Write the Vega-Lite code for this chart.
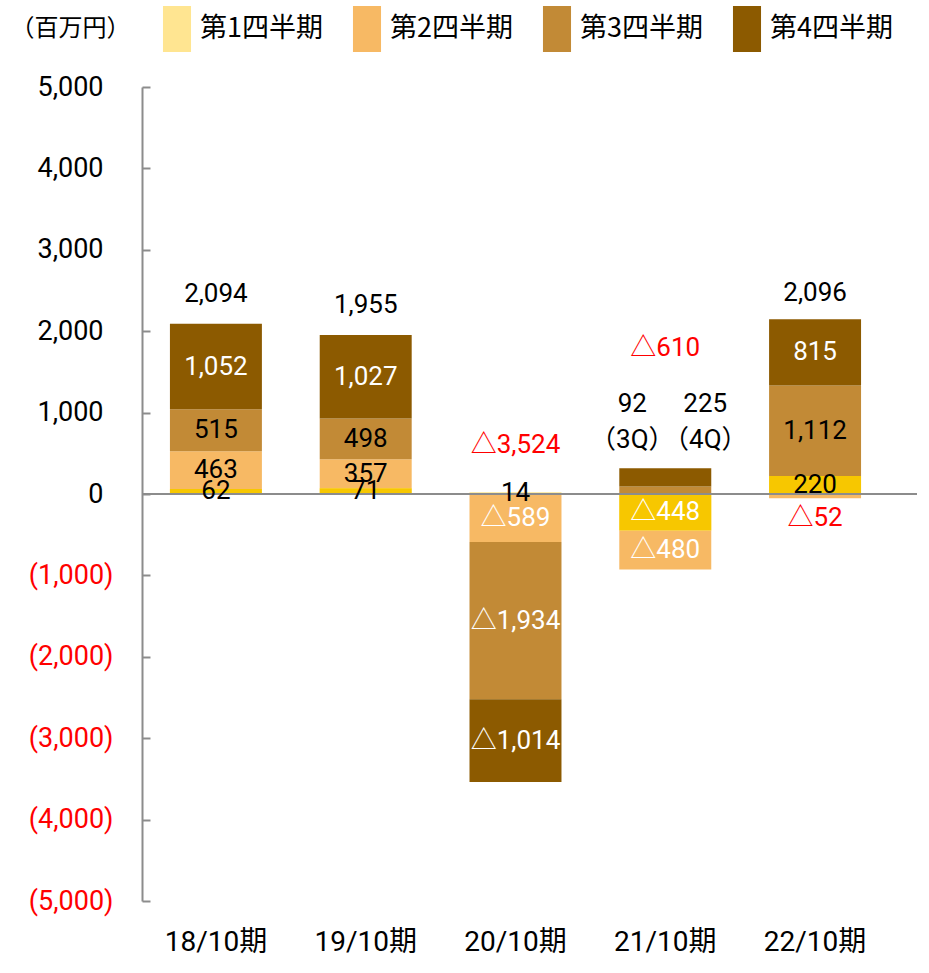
{
"$schema":"https://vega.github.io/schema/vega-lite/v6.json",
"width":775,"height":814,
"autosize":{"type":"none"},
"padding":{"left":142,"top":87,"right":12,"bottom":72},
"background":"white",
"config":{"view":{"stroke":null},"font":"Roboto, 'Noto Sans CJK JP', sans-serif","text":{"font":"Roboto, 'Noto Sans CJK JP', sans-serif"}},
"datasets":{
"quarters":[
{"period":"18/10期","quarter":"第1四半期","q":1,"value":62},
{"period":"18/10期","quarter":"第2四半期","q":2,"value":463},
{"period":"18/10期","quarter":"第3四半期","q":3,"value":515},
{"period":"18/10期","quarter":"第4四半期","q":4,"value":1052},
{"period":"19/10期","quarter":"第1四半期","q":1,"value":71},
{"period":"19/10期","quarter":"第2四半期","q":2,"value":357},
{"period":"19/10期","quarter":"第3四半期","q":3,"value":498},
{"period":"19/10期","quarter":"第4四半期","q":4,"value":1027},
{"period":"20/10期","quarter":"第1四半期","q":1,"value":14},
{"period":"20/10期","quarter":"第2四半期","q":2,"value":-589},
{"period":"20/10期","quarter":"第3四半期","q":3,"value":-1934},
{"period":"20/10期","quarter":"第4四半期","q":4,"value":-1014},
{"period":"21/10期","quarter":"第1四半期","q":1,"value":-448},
{"period":"21/10期","quarter":"第2四半期","q":2,"value":-480},
{"period":"21/10期","quarter":"第3四半期","q":3,"value":92},
{"period":"21/10期","quarter":"第4四半期","q":4,"value":225},
{"period":"22/10期","quarter":"第1四半期","q":1,"value":220},
{"period":"22/10期","quarter":"第2四半期","q":2,"value":-52},
{"period":"22/10期","quarter":"第3四半期","q":3,"value":1112},
{"period":"22/10期","quarter":"第4四半期","q":4,"value":815}
],
"totals":[
{"period":"18/10期","total":2094},
{"period":"19/10期","total":1955},
{"period":"20/10期","total":-3524},
{"period":"21/10期","total":-610},
{"period":"22/10期","total":2096}
]
},
"layer":[
{
"data":{"name":"quarters"},
"transform":[{"stack":"value","groupby":["period"],"sort":[{"field":"q","order":"ascending"}],"as":["v0","v1"],"offset":"zero"}],
"mark":{"type":"bar"},
"encoding":{
"x":{"field":"period","type":"nominal","title":null,
"scale":{"domain":["18/10期","19/10期","20/10期","21/10期","22/10期"],"paddingInner":0.386,"paddingOuter":0.28,"align":0.333},
"axis":{"domain":false,"ticks":false,"labelAngle":0,"labelFontSize":28,"labelColor":"#000000","labelPadding":27,"labelFont":"Roboto, 'Noto Sans CJK JP', sans-serif"}},
"y":{"field":"v0","type":"quantitative","title":"（百万円）",
"scale":{"domain":[-5000,5000],"nice":false,"zero":false},
"axis":{"values":[-5000,-4000,-3000,-2000,-1000,0,1000,2000,3000,4000,5000],"grid":false,
"labelExpr":"datum.value < 0 ? '(' + format(-datum.value, ',') + ')' : format(datum.value, ',')",
"labelFontSize":27,"labelFont":"Roboto, 'Noto Sans CJK JP', sans-serif",
"labelColor":{"condition":{"test":"datum.value < 0","value":"#FF0000"},"value":"#000000"},
"domainColor":"#8C8C8C","domainWidth":2,"tickColor":"#8C8C8C","tickWidth":2,"tickSize":-8,"labelPadding":47,
"encoding":{"labels":{"dx":{"value":{"expr":"datum.value < 0 ? 10 : 0"}}}},
"titleAngle":0,"titleAlign":"left","titleBaseline":"middle","titleX":-132,"titleY":-59,
"titleFont":"'Noto Sans CJK JP'","titleFontSize":24,"titleFontWeight":"normal","titleColor":"#000000"}},
"y2":{"field":"v1"},
"color":{"field":"quarter","type":"nominal",
"scale":{"domain":["第1四半期","第2四半期","第3四半期","第4四半期"],"range":["#FFE591","#F7B964","#C28A36","#8C5A00"]},
"legend":{"orient":"none","legendX":12,"legendY":-81,"direction":"horizontal","columns":4,"title":null,
"symbolType":"M-0.61,-1H0.61V1H-0.61Z","symbolSize":2116,"symbolStrokeWidth":0,"symbolOpacity":1,
"labelFont":"'Noto Sans CJK JP'","labelFontSize":27,"labelOffset":0,"labelColor":"#000000","labelLimit":0,
"columnPadding":21,"padding":0}
}
}
},
{
"data":{"name":"quarters"},
"transform":[
{"stack":"value","groupby":["period"],"sort":[{"field":"q","order":"ascending"}],"as":["v0","v1"],"offset":"zero"},
{"filter":"datum.q === 1"}
],
"mark":{"type":"bar","color":"#F7C700"},
"encoding":{
"x":{"field":"period","type":"nominal","title":null},
"y":{"field":"v0","type":"quantitative","title":"（百万円）"},
"y2":{"field":"v1"}
}
},
{
"data":{"values":[{}]},
"mark":{"type":"rule","color":"#8C8C8C","strokeWidth":2},
"encoding":{"y":{"datum":0}}
},
{
"data":{"name":"quarters"},
"transform":[
{"stack":"value","groupby":["period"],"sort":[{"field":"q","order":"ascending"}],"as":["v0","v1"],"offset":"zero"},
{"calculate":"(datum.v0 + datum.v1) / 2","as":"mid"},
{"calculate":"datum.value < 0 ? '△' + format(-datum.value, ',') : format(datum.value, ',')","as":"txt"},
{"filter":"!(datum.period === '21/10期' && datum.q >= 3) && !(datum.period === '22/10期' && datum.q === 2)"}
],
"mark":{"type":"text","fontSize":26,"baseline":"middle","align":"center"},
"encoding":{
"x":{"field":"period","type":"nominal","title":null},
"y":{"field":"mid","type":"quantitative","title":"（百万円）"},
"text":{"field":"txt","type":"nominal"},
"color":{"condition":{"test":"datum.q === 4 || datum.value < 0","value":"#FFFFFF"},"value":"#000000"}
}
},
{
"data":{"name":"quarters"},
"transform":[
{"filter":"datum.period === '21/10期' && datum.q === 3"},
{"calculate":"format(datum.value, ',') + '\\n（' + datum.q + 'Q）'","as":"txt"}
],
"mark":{"type":"text","fontSize":26,"baseline":"middle","align":"center","lineBreak":"\n","lineHeight":36,"dx":-33,"dy":-90,"color":"#000000"},
"encoding":{"x":{"field":"period","type":"nominal","title":null},"y":{"datum":0},"text":{"field":"txt","type":"nominal"}}
},
{
"data":{"name":"quarters"},
"transform":[
{"filter":"datum.period === '21/10期' && datum.q === 4"},
{"calculate":"format(datum.value, ',') + '\\n（' + datum.q + 'Q）'","as":"txt"}
],
"mark":{"type":"text","fontSize":26,"baseline":"middle","align":"center","lineBreak":"\n","lineHeight":36,"dx":40,"dy":-90,"color":"#000000"},
"encoding":{"x":{"field":"period","type":"nominal","title":null},"y":{"datum":0},"text":{"field":"txt","type":"nominal"}}
},
{
"data":{"name":"quarters"},
"transform":[
{"filter":"datum.period === '22/10期' && datum.q === 2"},
{"calculate":"'△' + format(-datum.value, ',')","as":"txt"}
],
"mark":{"type":"text","fontSize":26,"baseline":"middle","align":"center","dy":24,"color":"#FF0000"},
"encoding":{"x":{"field":"period","type":"nominal","title":null},"y":{"datum":0},"text":{"field":"txt","type":"nominal"}}
},
{
"data":{"name":"totals"},
"transform":[
{"filter":"datum.total > 0"},
{"calculate":"format(datum.total, ',')","as":"txt"}
],
"mark":{"type":"text","fontSize":26,"baseline":"middle","align":"center","dy":-30,"color":"#000000"},
"encoding":{"x":{"field":"period","type":"nominal","title":null},"y":{"field":"total","type":"quantitative","title":"（百万円）"},"text":{"field":"txt","type":"nominal"}}
},
{
"data":{"name":"totals"},
"transform":[
{"filter":"datum.period === '20/10期'"},
{"calculate":"'△' + format(-datum.total, ',')","as":"txt"}
],
"mark":{"type":"text","fontSize":26,"baseline":"middle","align":"center","dy":-49,"color":"#FF0000"},
"encoding":{"x":{"field":"period","type":"nominal","title":null},"y":{"datum":0},"text":{"field":"txt","type":"nominal"}}
},
{
"data":{"name":"totals"},
"transform":[
{"filter":"datum.period === '21/10期'"},
{"calculate":"'△' + format(-datum.total, ',')","as":"txt"}
],
"mark":{"type":"text","fontSize":26,"baseline":"middle","align":"center","dy":-146,"color":"#FF0000"},
"encoding":{"x":{"field":"period","type":"nominal","title":null},"y":{"datum":0},"text":{"field":"txt","type":"nominal"}}
}
]
}
